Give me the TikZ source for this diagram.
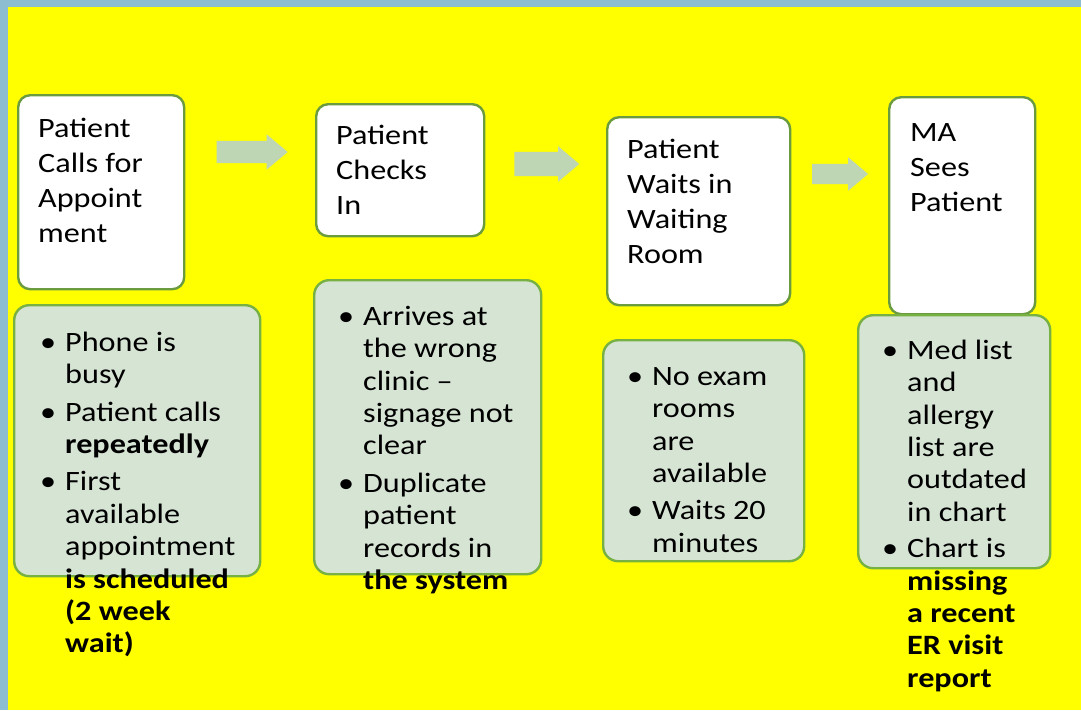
\documentclass[tikz,border=0pt]{standalone}
\usepackage{fontspec}
\newfontfamily\cardfont[FakeStretch=1.15]{Carlito}
\usetikzlibrary{shapes.arrows}
\definecolor{slide}{HTML}{FFFF00}
\definecolor{frameblue}{HTML}{8CBDD1}
\definecolor{framepale}{HTML}{E4ECF3}
\definecolor{cardline}{HTML}{6A9C3F}
\definecolor{issueline}{HTML}{77B043}
\definecolor{issuefill}{HTML}{D6E4D4}
\definecolor{arrowfill}{HTML}{BFD6B5}

% hanging bullet for the issue lists
\newcommand{\bul}{\llap{\textbullet\hspace{9pt}}}

\begin{document}
\begin{tikzpicture}[x=1pt,y=-1pt,
  stepcard/.style={draw=cardline, fill=white, line width=2.4pt, rounded corners=12pt, anchor=north west, inner sep=0pt},
  issuecard/.style={draw=issueline, fill=issuefill, line width=2.4pt, rounded corners=15pt, anchor=north west, inner sep=0pt},
  steptext/.style={anchor=north west, inner sep=0pt, align=left, font=\cardfont\fontsize{28}{35}\selectfont},
  issuetext/.style={anchor=north west, inner sep=0pt, align=left, font=\cardfont\fontsize{28}{32.4}\selectfont},
  flowarrow/.style={single arrow, fill=arrowfill, inner xsep=0pt, single arrow head indent=0pt, single arrow tip angle=80}]
  \useasboundingbox (0,0) rectangle (1081,710);
  % slide background and frame
  \fill[slide] (0,0) rectangle (1081,710);
  \shade[left color=frameblue, middle color=framepale, right color=frameblue] (0,0) rectangle (1081,6);
  \fill[frameblue] (0,0) rectangle (8,710);

  % process steps
  \foreach \id/\x/\y/\w/\h/\tx/\ty/\txt in {
    calls/17/94/166/194/38/137/{Patient\\Calls for\\Appoint\\ment},
    checkin/315/103/168/132/336/144/{Patient\\Checks\\In},
    waiting/606/116/183/188/627/158/{Patient\\Waits in\\Waiting\\Room},
    seen/888/96/146/217/910/141/{MA\\Sees\\Patient}}{
    \node[stepcard, minimum width=\w pt, minimum height=\h pt] (\id) at (\x,\y) {};
    \node[steptext] (\id-txt) at (\tx,\ty-24.5) {\strut\txt};
  }

  % block arrows between the steps
  \node[flowarrow, minimum height=71pt, minimum width=35pt, inner ysep=11pt, single arrow head extend=6.5pt] (arrA) at (245.5,152) {};
  \node[flowarrow, minimum height=65pt, minimum width=35pt, inner ysep=12pt, single arrow head extend=5.5pt] (arrB) at (539.5,164) {};
  \node[flowarrow, minimum height=56pt, minimum width=33pt, inner ysep=10pt, single arrow head extend=6.5pt] (arrC) at (834,174) {};

  % problems found at each step
  \node[issuecard, minimum width=246pt, minimum height=271pt] (busy) at (13,304) {};
  \node[issuecard, minimum width=227pt, minimum height=294pt] (wrong) at (313,279) {};
  \node[issuecard, minimum width=201pt, minimum height=221pt] (norooms) at (602,339) {};
  \node[issuecard, minimum width=192pt, minimum height=253pt] (chart) at (857,314) {};

  \node[issuetext] (busy-txt) at (65,351-22.68) {\strut\bul Phone is\\busy\\[5pt]\bul Patient calls\\\textbf{repeatedly}\\[5pt]\bul First\\available\\appointment\\\textbf{is scheduled}\\\textbf{(2 week}\\\textbf{wait)}};
  \node[issuetext] (wrong-txt) at (363,325-22.68) {\strut\bul Arrives at\\the wrong\\clinic –\\signage not\\clear\\[5pt]\bul Duplicate\\patient\\records in\\\textbf{the system}};
  \node[issuetext] (norooms-txt) at (652,385-22.68) {\strut\bul No exam\\rooms\\are\\available\\[5pt]\bul Waits 20\\minutes};
  \node[issuetext] (chart-txt) at (907,359-22.68) {\strut\bul Med list\\and\\allergy\\list are\\outdated\\in chart\\[4pt]\bul Chart is\\\textbf{missing}\\\textbf{a recent}\\\textbf{ER visit}\\\textbf{report}};
\end{tikzpicture}
\end{document}
